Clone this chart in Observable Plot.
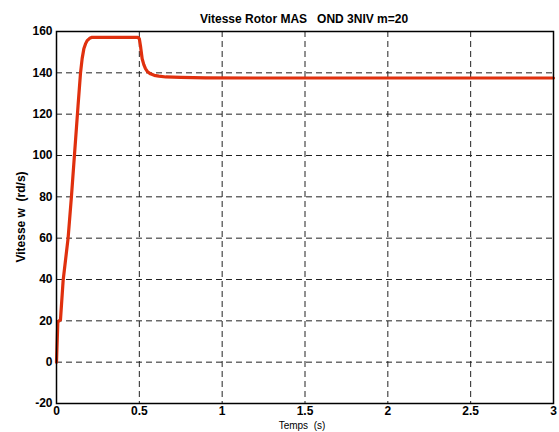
<!DOCTYPE html>
<html>
<head>
<meta charset="utf-8">
<script src="https://cdn.jsdelivr.net/npm/d3@7"></script>
<script src="https://cdn.jsdelivr.net/npm/@observablehq/plot@0.6"></script>
<style>
  html, body { margin: 0; padding: 0; background: #fff; }
  #chart svg { display: block; }
</style>
</head>
<body>
<div id="chart"></div>
<script>
const title = "Vitesse Rotor MAS   OND 3NIV m=20";
const xLabel = "Temps  (s)";
const yLabel = "Vitesse w  (rd/s)";
const xTicks = [0, 0.5, 1, 1.5, 2, 2.5, 3];
const yTicks = [-20, 0, 20, 40, 60, 80, 100, 120, 140, 160];

const time  = [0, 0.008, 0.024, 0.04, 0.07, 0.09, 0.11, 0.13, 0.145, 0.155, 0.165, 0.175, 0.185, 0.2, 0.215, 0.3, 0.4, 0.49, 0.5, 0.507, 0.517, 0.527, 0.537, 0.55, 0.567, 0.59, 0.618, 0.66, 0.75, 0.9, 1.2, 1.5, 1.8, 2.1, 2.4, 2.7, 3.0];
const speed = [0, 19.4, 20.5, 39.5, 60, 80, 102, 124, 140, 147, 151.6, 154, 155.6, 156.7, 157.2, 157.2, 157.2, 157.2, 156.5, 153, 146.8, 144, 142, 140.5, 139.5, 138.8, 138.4, 138.0, 137.8, 137.6, 137.5, 137.5, 137.5, 137.5, 137.5, 137.5, 137.5];

const data = time.map((t, i) => ({t, v: speed[i]}));

const font = "'Liberation Sans', Arial, sans-serif";

const plot = Plot.plot({
  width: 559,
  height: 432,
  marginLeft: 56,
  marginRight: 6,
  marginTop: 31,
  marginBottom: 29,
  style: {fontFamily: font, background: "#fff", color: "#000"},
  x: {domain: [0, 3], ticks: xTicks, label: null, tickFormat: d => String(d)},
  y: {domain: [-20, 160], ticks: yTicks, label: null, tickFormat: d => String(d)},
  marks: [
    Plot.gridX(xTicks.slice(1, -1), {stroke: "#222", strokeOpacity: 1, strokeDasharray: "6,4", strokeWidth: 1}),
    Plot.gridY(yTicks.slice(1, -1), {stroke: "#222", strokeOpacity: 1, strokeDasharray: "6,4", strokeWidth: 1}),
    Plot.line(data, {x: "t", y: "v", stroke: "#e0300e", strokeWidth: 3.2, curve: "linear"}),
    Plot.frame({stroke: "#000", strokeWidth: 1.5}),
    Plot.axisX({ticks: xTicks, tickSize: 0, tickPadding: 3, fontSize: 12, fontWeight: "bold", label: null, tickFormat: d => String(d)}),
    Plot.axisY({ticks: yTicks, tickSize: 0, tickPadding: 4, fontSize: 12, fontWeight: "bold", label: null, tickFormat: d => String(d)})
  ]
});

const svg = d3.select(plot);
svg.append("text")
  .attr("x", 304).attr("y", 23)
  .attr("text-anchor", "middle")
  .attr("font-family", font).attr("font-size", 12).attr("font-weight", "bold")
  .attr("fill", "#000")
  .style("white-space", "pre")
  .text(title);
svg.append("text")
  .attr("x", 302).attr("y", 429)
  .attr("text-anchor", "middle")
  .attr("font-family", font).attr("font-size", 10)
  .attr("fill", "#000")
  .style("white-space", "pre")
  .text(xLabel);
svg.append("text")
  .attr("transform", "translate(25,217) rotate(-90)")
  .attr("text-anchor", "middle")
  .attr("font-family", font).attr("font-size", 12).attr("font-weight", "bold")
  .attr("fill", "#000")
  .style("white-space", "pre")
  .text(yLabel);

document.getElementById("chart").appendChild(plot);
</script>
</body>
</html>
